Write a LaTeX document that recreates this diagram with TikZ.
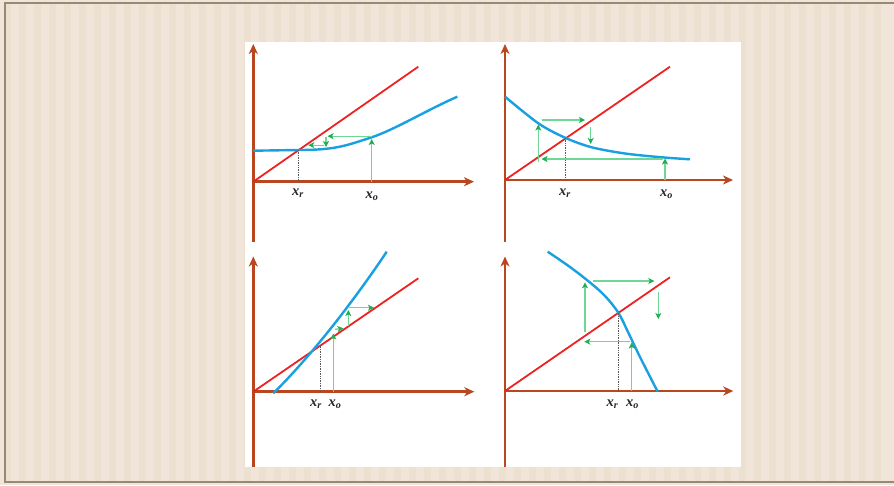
\documentclass[tikz,border=0pt]{standalone}
\usepackage{fontspec}
\setmainfont{Liberation Serif}
\usetikzlibrary{arrows.meta}
\definecolor{bg}{RGB}{240,229,216}
\definecolor{bgs}{RGB}{236,224,209}
\definecolor{framec}{RGB}{150,138,118}
\definecolor{axisc}{RGB}{184,70,30}
\definecolor{redl}{RGB}{235,35,35}
\definecolor{bluel}{RGB}{25,160,225}
\definecolor{greenl}{RGB}{110,215,150}
\definecolor{greent}{RGB}{30,175,80}
\tikzset{
 axisline/.style={draw=axisc, line width=2.8pt, -{Stealth[length=10pt,width=9pt,inset=3pt]}},
 axisplain/.style={draw=axisc, line width=2.8pt},
 diag/.style={draw=redl, line width=1.8pt},
 curve/.style={draw=bluel, line width=2.4pt},
 cob/.style={draw=greenl, line width=1.3pt, -{Stealth[length=6pt,width=6pt,inset=1.5pt,color=greent]}},
 guide/.style={draw=black!65, densely dotted, line width=0.7pt},
 lbl/.style={font=\fontsize{14.5}{15}\selectfont\bfseries\itshape, inner sep=0pt, text=black!85}
}
\begin{document}
\begin{tikzpicture}[x=1pt,y=-1pt]
\useasboundingbox (0,0) rectangle (894,485);
% background
\fill[bg] (0,0) rectangle (894,485);
\foreach \i in {0,...,58}{\fill[bgs] (\i*15+4,4) rectangle (\i*15+11,481);}
\draw[framec, line width=2pt] (894,3) -- (5,3) -- (5,482) -- (894,482);
% white panel
\fill[white] (245,42) rectangle (741,467);

% ---------- Quadrant 1 ----------
\coordinate (o1) at (253.3,181.7);
\coordinate (y1b) at (253.3,241.5);
\coordinate (y1t) at (253.3,44);
\coordinate (x1e) at (474,181.7);
\draw[axisplain] (y1b) -- (o1);
\draw[axisline] (o1) -- (y1t);
\draw[axisline] (o1) -- (x1e);
\coordinate (r1) at (418.3,66.7);
\draw[diag] (o1) -- (r1);
\draw[curve] (253.3,150.7) -- (298,150) .. controls (335,150) and (345,146) .. (371.7,137.3) .. controls (395,129.5) and (425,111) .. (457.3,96.7);
\coordinate (f1) at (298.3,149.8);
\coordinate (f1a) at (298.3,181.7);
\draw[guide] (f1) -- (f1a);
\coordinate (g1a) at (371.7,181.7);
\coordinate (g1b) at (371.7,139);
\coordinate (g1c) at (371.7,136.2);
\coordinate (g1d) at (327.5,136.2);
\coordinate (g1e) at (326,136.5);
\coordinate (g1f) at (326,147);
\coordinate (g1g) at (323.5,145.2);
\coordinate (g1h) at (308.3,145.2);
\draw[cob] (g1a) -- (g1b);
\draw[cob] (g1c) -- (g1d);
\draw[cob] (g1e) -- (g1f);
\draw[cob] (g1g) -- (g1h);
\node[lbl] (q1r) at (298,193) {x\textsubscript{r}};
\node[lbl] (q1o) at (372,196.5) {x\textsubscript{o}};

% ---------- Quadrant 2 ----------
\coordinate (o2) at (505,180);
\coordinate (y2b) at (505,241.5);
\coordinate (y2t) at (505,44);
\coordinate (x2e) at (733,180);
\draw[axisplain] (y2b) -- (o2);
\draw[axisline] (o2) -- (y2t);
\draw[axisline] (o2) -- (x2e);
\coordinate (r2) at (670,66.7);
\draw[diag] (o2) -- (r2);
\draw[curve] plot[smooth] coordinates {(505,96.7) (538.3,123.3) (565,137.7) (591.7,147.3) (625,153.5) (661.7,157.3) (690,159.3)};
\coordinate (f2) at (565,138);
\coordinate (f2a) at (565,180);
\draw[guide] (f2) -- (f2a);
\coordinate (g2a) at (665,180);
\coordinate (g2b) at (665,158.5);
\coordinate (g2c) at (663,159);
\coordinate (g2d) at (541.5,159);
\coordinate (g2e) at (538.3,161.5);
\coordinate (g2f) at (538.3,124.5);
\coordinate (g2g) at (541.7,120);
\coordinate (g2h) at (585,120);
\coordinate (g2i) at (590.7,127.3);
\coordinate (g2j) at (590.7,144);
\draw[cob] (g2a) -- (g2b);
\draw[cob] (g2c) -- (g2d);
\draw[cob] (g2e) -- (g2f);
\draw[cob] (g2g) -- (g2h);
\draw[cob] (g2i) -- (g2j);
\node[lbl] (q2r) at (565,193) {x\textsubscript{r}};
\node[lbl] (q2o) at (666.5,194) {x\textsubscript{o}};

% ---------- Quadrant 3 ----------
\coordinate (o3) at (253.3,391.7);
\coordinate (y3b) at (253.3,467);
\coordinate (y3t) at (253.3,256.5);
\coordinate (x3e) at (474.3,391.7);
\draw[axisplain] (y3b) -- (o3);
\draw[axisline] (o3) -- (y3t);
\draw[axisline] (o3) -- (x3e);
\coordinate (r3) at (418.3,278.3);
\draw[diag] (o3) -- (r3);
\draw[curve] (273.3,393.3) .. controls (308.3,359) and (351.7,304.2) .. (386.7,251.7);
\coordinate (f3) at (320,345.5);
\coordinate (f3a) at (320,391.7);
\draw[guide] (f3) -- (f3a);
\coordinate (g3a) at (333.3,391.7);
\coordinate (g3b) at (333.3,333.5);
\coordinate (g3c) at (335,329.3);
\coordinate (g3d) at (343.5,328.3);
\coordinate (g3e) at (348.3,326);
\coordinate (g3f) at (348.3,310);
\coordinate (g3g) at (349.3,307.7);
\coordinate (g3h) at (374,307.7);
\draw[cob] (g3a) -- (g3b);
\draw[cob] (g3c) -- (g3d);
\draw[cob] (g3e) -- (g3f);
\draw[cob] (g3g) -- (g3h);
\node[lbl] (q3r) at (316,404) {x\textsubscript{r}};
\node[lbl] (q3o) at (335,404) {x\textsubscript{o}};

% ---------- Quadrant 4 ----------
\coordinate (o4) at (505,391);
\coordinate (y4b) at (505,467);
\coordinate (y4t) at (505,256.5);
\coordinate (x4e) at (733.3,391);
\draw[axisplain] (y4b) -- (o4);
\draw[axisline] (o4) -- (y4t);
\draw[axisline] (o4) -- (x4e);
\coordinate (r4) at (670,277.3);
\draw[diag] (o4) -- (r4);
\draw[curve] plot[smooth, tension=0.6] coordinates {(547.7,251.7) (570,267) (590,282.5) (605,296) (618.3,312.7) (628,332) (640,357) (657.7,391.7)};
\coordinate (f4) at (618.3,312.7);
\coordinate (f4a) at (618.3,391);
\draw[guide] (f4) -- (f4a);
\coordinate (g4a) at (631.7,391);
\coordinate (g4b) at (631.7,342.5);
\coordinate (g4c) at (630,341.7);
\coordinate (g4d) at (584.3,341.7);
\coordinate (g4e) at (585,332.3);
\coordinate (g4f) at (585,282.3);
\coordinate (g4g) at (593.3,281);
\coordinate (g4h) at (654.3,281);
\coordinate (g4i) at (658.3,291.7);
\coordinate (g4j) at (658.3,319);
\draw[cob] (g4a) -- (g4b);
\draw[cob] (g4c) -- (g4d);
\draw[cob] (g4e) -- (g4f);
\draw[cob] (g4g) -- (g4h);
\draw[cob] (g4i) -- (g4j);
\node[lbl] (q4r) at (612.5,404.5) {x\textsubscript{r}};
\node[lbl] (q4o) at (632.5,404.5) {x\textsubscript{o}};
\end{tikzpicture}
\end{document}
